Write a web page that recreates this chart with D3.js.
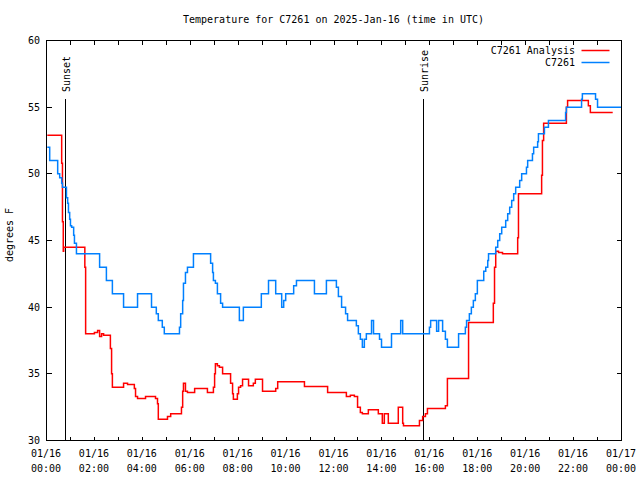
<!DOCTYPE html>
<html>
<head>
<meta charset="utf-8">
<script src="https://cdn.jsdelivr.net/npm/d3@7"></script>
<style>
  html, body { margin: 0; padding: 0; background: #fff; }
  svg { display: block; }
  text { font-family: "DejaVu Sans Mono", "Liberation Mono", monospace; font-size: 10px; fill: #000; }
</style>
</head>
<body>
<svg id="chart" width="640" height="480"></svg>
<script>
const title = "Temperature for C7261 on 2025-Jan-16 (time in UTC)";
const yLabel = "degrees F";
const seriesNames = ["C7261 Analysis", "C7261"];
const seriesColors = ["#ff0000", "#0080ff"];

const yTicks = [30, 35, 40, 45, 50, 55, 60];
const xTickHours = d3.range(0, 25, 1);
const xLabelHours = [0, 2, 4, 6, 8, 10, 12, 14, 16, 18, 20, 22, 24];
const xLabelDates = ["01/16","01/16","01/16","01/16","01/16","01/16","01/16","01/16","01/16","01/16","01/16","01/16","01/17"];
const xLabelTimes = ["00:00","02:00","04:00","06:00","08:00","10:00","12:00","14:00","16:00","18:00","20:00","22:00","00:00"];

const sunEvents = ["Sunset", "Sunrise"];
const sunTimes = ["00:48", "15:43"];

// Analysis (red) step series
const analysisTimes = ["00:02","00:38","00:40","00:42","00:43","01:36","01:38","02:00","02:08","02:13","02:18","02:23","02:40","02:43","02:45","03:13","03:23","03:40","03:43","03:48","04:08","04:33","04:38","04:40","05:03","05:11","05:38","05:41","05:43","05:48","05:53","06:11","06:43","06:58","07:01","07:03","07:08","07:13","07:21","07:41","07:46","07:48","07:58","08:01","08:06","08:11","08:26","08:38","08:43","09:01","09:34","09:39","10:46","11:44","12:31","12:41","12:51","12:59","13:06","13:11","13:26","13:51","14:01","14:06","14:16","14:41","14:52","14:54","15:34","15:42","15:49","15:54","16:39","16:44","17:37","18:39","18:42","18:45","18:52","19:02","19:40","19:42","20:40","20:42","20:45","21:42","21:45","22:37","22:42","23:38"];
const analysisValues = [52.9,50.8,46.4,44.2,44.5,43,38,38.1,38.25,37.8,38,37.9,36.9,35,34,34.3,34.2,33.9,33.3,33.15,33.3,33.15,32.75,31.6,31.8,32,32.5,33.7,34.3,33.7,33.6,33.9,33.6,34,35,35.75,35.6,35.5,35,34.3,33.5,33.1,33.5,34,34.1,34.6,34.1,34.3,34.6,33.7,33.9,34.4,34.05,33.6,33.3,33.4,33.3,32.5,32.1,32,32.3,32,31.3,32,31.3,32.5,31.3,31.1,31.5,31.8,32,32.4,32.6,34.65,38.85,40.3,43,44.2,44.1,44,45.2,48.5,49.9,52.5,53.8,55,55.5,55.1,54.6,54.6];

// Observation (blue) step series
const obsTimes = ["00:02","00:08","00:28","00:33","00:38","00:40","00:50","00:53","00:55","00:58","01:00","01:03","01:08","01:10","01:15","02:13","02:30","02:45","03:13","03:48","04:23","04:35","04:40","04:50","04:55","05:33","05:36","05:41","05:43","05:48","05:53","06:08","06:51","06:56","06:58","07:03","07:08","07:16","07:21","08:03","08:13","08:58","09:16","09:34","09:49","09:54","09:59","10:19","10:26","11:11","11:41","12:06","12:11","12:19","12:29","12:34","12:56","13:01","13:06","13:11","13:16","13:21","13:34","13:39","13:54","13:59","14:24","14:47","14:52","15:59","16:02","16:17","16:22","16:32","16:39","16:44","17:12","17:29","17:32","17:39","17:44","17:49","17:54","17:59","18:15","18:20","18:25","18:27","18:45","18:50","18:55","19:00","19:10","19:15","19:20","19:25","19:30","19:35","19:45","19:50","20:02","20:05","20:17","20:20","20:30","20:32","20:47","20:57","21:40","21:42","22:20","22:22","22:55","23:00","24:00"];
const obsValues = [52,51,50,49.7,49.3,49,48.2,47.8,47.1,46.6,46.1,46,45.4,44.8,44,43,42,41,40,41,40,39.5,39,38.5,38,38.5,39.5,40.5,41.8,42.6,43,44,43.3,42.6,42,41.8,41,40.3,40,39,40,41,42,41,40,40.5,41,41.6,42,41,42,41.5,40.8,40,39.5,39,38.6,38,37.6,37,37.6,38,39,38,37.6,37,38,39,38,38.5,39,38.2,39,38.2,37.6,37,38,38.5,39,39.5,40,40.5,41,42,42.7,43,43.5,44,44.5,45,45.5,46,46.5,47,47.5,48,48.5,49,49.5,50,50.5,51,51.5,52,52.4,53,53.5,54,54.6,55,55.6,56,55.6,55,55];

function toMin(s) { const p = s.split(":"); return (+p[0]) * 60 + (+p[1]); }

const svg = d3.select("#chart");
const L = 46, R = 621, T = 40, B = 440;
const x = d3.scaleLinear().domain([0, 1440]).range([L, R]);
const y = d3.scaleLinear().domain([30, 60]).range([B, T]);

const g = svg.append("g").attr("transform", "translate(0.5,0.5)");

// title
svg.append("text").attr("x", (L + R) / 2).attr("y", 23).attr("text-anchor", "middle").text(title);

// axes ticks
const tickG = g.append("g").attr("shape-rendering", "crispEdges").attr("stroke", "#000");
tickG.selectAll(".xb").data(xTickHours).join("line")
  .attr("x1", d => Math.round(x(d * 60))).attr("x2", d => Math.round(x(d * 60)))
  .attr("y1", B).attr("y2", B - 4);
tickG.selectAll(".xt").data(xTickHours).join("line").attr("class", "xt")
  .attr("x1", d => Math.round(x(d * 60))).attr("x2", d => Math.round(x(d * 60)))
  .attr("y1", T).attr("y2", T + 4);
tickG.selectAll(".yl").data(yTicks).join("line").attr("class", "yl")
  .attr("x1", L).attr("x2", L + 5).attr("y1", d => Math.round(y(d))).attr("y2", d => Math.round(y(d)));
tickG.selectAll(".yr").data(yTicks).join("line").attr("class", "yr")
  .attr("x1", R).attr("x2", R - 5).attr("y1", d => Math.round(y(d))).attr("y2", d => Math.round(y(d)));

// y labels
svg.selectAll(".ylab").data(yTicks).join("text").attr("class", "ylab")
  .attr("x", 40).attr("y", d => y(d) + 4).attr("text-anchor", "end").text(d => d);

// x labels
const xl = svg.selectAll(".xlab").data(xLabelHours).join("text").attr("class", "xlab")
  .attr("text-anchor", "middle");
xl.append("tspan").attr("x", d => x(d * 60)).attr("y", 457).text((d, i) => xLabelDates[i]);
xl.append("tspan").attr("x", d => x(d * 60)).attr("y", 472).text((d, i) => xLabelTimes[i]);

// y axis title
svg.append("text").attr("transform", "translate(13,235) rotate(-90)").attr("text-anchor", "middle").text(yLabel);

// sun lines
sunEvents.forEach((name, i) => {
  const xs = Math.round(x(toMin(sunTimes[i])));
  g.append("line").attr("x1", xs).attr("x2", xs).attr("y1", 98).attr("y2", B)
    .attr("stroke", "#000").attr("shape-rendering", "crispEdges");
  svg.append("text").attr("transform", `translate(${xs + 5},92) rotate(-90)`).attr("text-anchor", "start").text(name);
});

// series lines
const line = d3.line().x(d => x(d[0])).y(d => y(d[1])).curve(d3.curveStepAfter);
const analysisData = analysisTimes.map((t, i) => [toMin(t), analysisValues[i]]);
const obsData = obsTimes.map((t, i) => [toMin(t), obsValues[i]]);

g.append("path").datum(analysisData).attr("d", line).attr("fill", "none")
  .attr("stroke", seriesColors[0]).attr("stroke-width", 1.5);
g.append("path").datum(obsData).attr("d", line).attr("fill", "none")
  .attr("stroke", seriesColors[1]).attr("stroke-width", 1.5);

// frame
g.append("rect").attr("x", L).attr("y", T).attr("width", R - L).attr("height", B - T)
  .attr("fill", "none").attr("stroke", "#000").attr("shape-rendering", "crispEdges");

// legend
seriesNames.forEach((name, i) => {
  const ly = 50 + i * 12;
  svg.append("text").attr("x", 575).attr("y", ly + 4).attr("text-anchor", "end").text(name);
  g.append("line").attr("x1", 581).attr("x2", 609).attr("y1", ly).attr("y2", ly)
    .attr("stroke", seriesColors[i]).attr("stroke-width", 1.5);
});
</script>
</body>
</html>
